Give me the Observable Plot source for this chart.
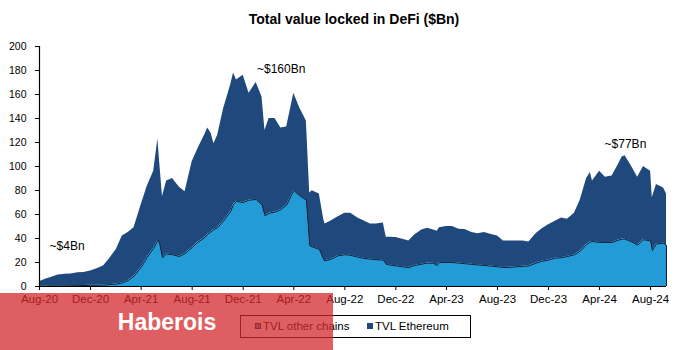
<!DOCTYPE html>
<html>
<head>
<meta charset="utf-8">
<script src="https://cdn.jsdelivr.net/npm/d3@7"></script>
<script src="https://cdn.jsdelivr.net/npm/@observablehq/plot@0.6"></script>
<style>
  body { margin: 0; background: #fff; font-family: "Liberation Sans", Arial, sans-serif; }
  #wrap { position: relative; width: 682px; height: 350px; overflow: hidden; }
  #chart { position: absolute; left: 0; top: 0; }
  #title { position: absolute; left: 0; width: 708px; top: 11px; text-align: center; font-weight: bold; font-size: 14px; color: #000; }
  #legend { position: absolute; left: 240px; top: 315px; width: 231px; height: 23px; box-sizing: border-box; border: 1px solid #000; font-size: 11.5px; color: #000; }
  #legend .item { position: absolute; top: 3px; line-height: 15px; white-space: nowrap; }
  #legend .sw { display: inline-block; width: 6px; height: 6px; box-sizing: border-box; margin-right: 2px; vertical-align: 1px; }
  #wm { position: absolute; left: 0; top: 293px; width: 333px; height: 57px; background: rgba(212, 40, 44, 0.75); }
  #wmtext { position: absolute; left: 0; width: 334px; top: 309px; text-align: center; color: #fff; font-weight: bold; font-size: 23px; line-height: 26px; font-family: "Liberation Sans", Arial, sans-serif; }
</style>
</head>
<body>
<div id="wrap">
  <div id="chart"></div>
  <div id="title">Total value locked in DeFi ($Bn)</div>
  <div id="legend"></div>
  <div id="wm"></div>
  <div id="wmtext">Haberois</div>
</div>
<script>
// ---- data ----
const dates = [
  "2020-08-01","2020-08-15","2020-09-01","2020-09-15","2020-10-01","2020-10-15","2020-11-01","2020-11-15","2020-12-01","2020-12-15",
  "2021-01-01","2021-01-15","2021-02-01","2021-02-15","2021-03-01","2021-03-15","2021-04-01","2021-04-15","2021-05-01","2021-05-11",
  "2021-05-15","2021-05-22","2021-06-01","2021-06-15","2021-07-01","2021-07-15","2021-08-01","2021-08-15","2021-09-01","2021-09-07",
  "2021-09-15","2021-09-22","2021-10-01","2021-10-15","2021-11-01","2021-11-08","2021-11-15","2021-12-01","2021-12-15","2022-01-01",
  "2022-01-15","2022-01-22","2022-02-01","2022-02-15","2022-03-01","2022-03-15","2022-04-01","2022-04-15","2022-05-01","2022-05-09",
  "2022-05-15","2022-06-01","2022-06-12","2022-06-15","2022-07-01","2022-07-15","2022-08-01","2022-08-15","2022-09-01","2022-09-15",
  "2022-10-01","2022-10-15","2022-11-01","2022-11-08","2022-11-15","2022-12-01","2022-12-15","2023-01-01","2023-01-15","2023-02-01",
  "2023-02-15","2023-03-01","2023-03-10","2023-03-15","2023-04-01","2023-04-15","2023-05-01","2023-05-15","2023-06-01","2023-06-15",
  "2023-07-01","2023-07-15","2023-08-01","2023-08-15","2023-09-01","2023-09-15","2023-10-01","2023-10-15","2023-11-01","2023-11-15",
  "2023-12-01","2023-12-15","2024-01-01","2024-01-15","2024-02-01","2024-02-15","2024-03-01","2024-03-10","2024-03-15","2024-04-01",
  "2024-04-15","2024-05-01","2024-05-15","2024-05-25","2024-06-01","2024-06-15","2024-07-01","2024-07-15","2024-08-01","2024-08-05",
  "2024-08-15","2024-09-01","2024-09-08"
];
// total TVL (top of dark area), $Bn
const totalTVL = [
  4, 6, 8, 9.5, 10.3, 10.5, 11.5, 11.7, 13, 14.5,
  17, 23, 31, 42, 45, 49, 68, 83, 96, 123,
  105, 75, 88, 90, 83, 79, 104, 115, 127, 132,
  128, 119, 126, 148, 168, 178, 172, 176, 161, 170,
  158, 130, 140, 140, 132, 133, 161, 149, 138, 78,
  79.7, 77, 55, 52, 55, 58, 61, 61, 57, 54.7,
  52, 52, 53, 41, 41, 40.8, 39.5, 38, 43, 47,
  48.5, 47, 46, 49, 50, 50, 47.8, 47.5, 45, 44,
  45, 43.5, 42, 38, 38, 38, 38, 37, 44, 48,
  51.5, 54, 57, 56, 61, 72, 90, 95, 88, 96,
  91, 92, 101, 108, 109, 101, 91, 100, 96, 74,
  85, 82, 77
];
// TVL other chains (light blue, bottom), $Bn
const otherChainsTVL = [
  0.3, 0.4, 0.5, 0.5, 0.5, 0.6, 0.7, 0.8, 1, 1,
  1.2, 1.5, 2, 3, 5, 8.5, 16, 24, 32, 38.6,
  36, 24, 27, 26.5, 25, 27.5, 32.5, 37, 41, 43.6,
  45.5, 47.5, 49, 54.5, 62.5, 68.6, 71, 70, 72, 72.5,
  68, 59, 61, 62, 64, 68, 80, 75.6, 72, 34,
  33, 31, 22, 21.4, 23, 25.5, 26.5, 26, 24.5, 23.5,
  22.8, 22.4, 22, 18.6, 18, 17.2, 16.5, 15.8, 17.5, 18.6,
  19.5, 19.3, 17.5, 20, 20, 20, 19.5, 19, 18.5, 18,
  17.5, 17, 16.5, 15.8, 16, 16.4, 16.8, 17.2, 19.5, 21,
  22, 23.5, 24, 25, 26.5, 29.5, 35, 37, 37.5, 36.7,
  36.7, 36.7, 38.5, 39.5, 39.5, 37.5, 34.5, 39, 38, 30,
  35.5, 36, 34
];
const tickDates = ["2020-08-01","2020-12-01","2021-04-01","2021-08-01","2021-12-01","2022-04-01","2022-08-01","2022-12-01","2023-04-01","2023-08-01","2023-12-01","2024-04-01","2024-08-01"];
const yTicks = [0, 20, 40, 60, 80, 100, 120, 140, 160, 180, 200];
const seriesNames = ["TVL other chains", "TVL Ethereum"];
const seriesColors = ["#229bd7", "#1f497d"];
const annotationLabels = ["~$4Bn", "~$160Bn", "~$77Bn"];
const annotationDates = ["2020-08-25", "2022-01-03", "2024-04-13"];
const annotationValues = [34, 181, 119];

// ---- build tables ----
const parse = d3.utcParse("%Y-%m-%d");
const rows = dates.map((d, i) => ({ date: parse(d), other: otherChainsTVL[i], total: totalTVL[i] }));
const annos = annotationLabels.map((t, i) => ({ text: t, date: parse(annotationDates[i]), value: annotationValues[i] }));
const xStart = parse("2020-08-01"), xEnd = parse("2024-09-08");

const chart = Plot.plot({
  width: 682,
  height: 350,
  marginTop: 46,
  marginBottom: 64,
  marginLeft: 39,
  marginRight: 16,
  style: { fontFamily: "'Liberation Sans', Arial, sans-serif", color: "#000", background: "transparent", overflow: "visible" },
  x: { type: "utc", domain: [xStart, xEnd] },
  y: { domain: [0, 200] },
  marks: [
    Plot.areaY(rows, { x: "date", y1: "other", y2: "total", fill: seriesColors[1], curve: "linear" }),
    Plot.areaY(rows, { x: "date", y1: 0, y2: "other", fill: seriesColors[0], curve: "linear" }),
    Plot.lineY(rows, { x: "date", y: "other", stroke: "#0c2036", strokeWidth: 1 }),
    Plot.ruleX(rows.slice(-1), { x: "date", y1: 0, y2: "other", stroke: "#0c2036", strokeWidth: 1 }),
    Plot.ruleY([0], { x1: xStart, x2: xEnd, stroke: "#000", strokeWidth: 1.2 }),
    Plot.ruleX([xStart], { y1: 0, y2: 200, stroke: "#000", strokeWidth: 1.2 }),
    Plot.axisY({ ticks: yTicks, tickSize: 4, tickPadding: 9, fontSize: 10.5, label: null, stroke: "#000", tickFormat: d3.format("d") }),
    Plot.axisX({ ticks: tickDates.map(parse), tickSize: 4, tickPadding: 4, fontSize: 11.5, label: null, stroke: "#000", tickFormat: d3.utcFormat("%b-%y") }),
    Plot.text(annos, { x: "date", y: "value", text: "text", textAnchor: "start", fontSize: 12, fill: "#000" })
  ]
});
document.getElementById("chart").appendChild(chart);

// legend
const legend = document.getElementById("legend");
const legendX = [14, 126];
seriesNames.forEach((name, i) => {
  const item = document.createElement("div");
  item.className = "item";
  item.style.left = legendX[i] + "px";
  const sw = document.createElement("span");
  sw.className = "sw";
  sw.style.background = seriesColors[i];
  sw.style.border = i === 0 ? "1px solid #0c2036" : "none";
  item.appendChild(sw);
  item.appendChild(document.createTextNode(name));
  legend.appendChild(item);
});
</script>
</body>
</html>
